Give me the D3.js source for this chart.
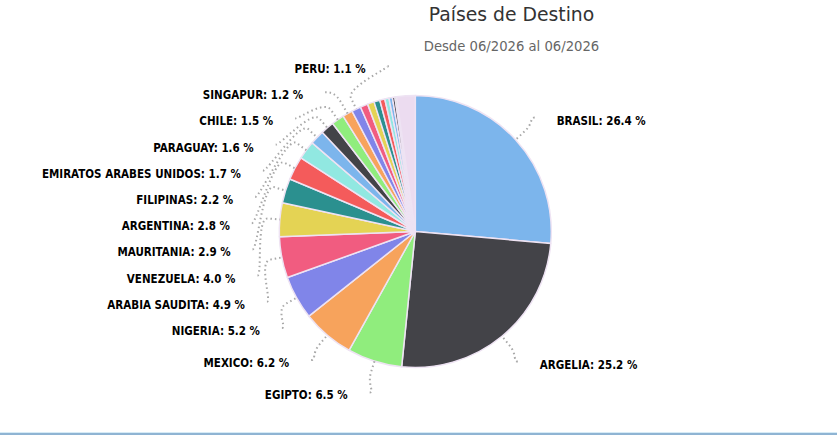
<!DOCTYPE html>
<html><head><meta charset="utf-8">
<script src="https://cdn.jsdelivr.net/npm/d3@7/dist/d3.min.js"></script>
<style>
html,body{margin:0;padding:0;background:#fff;}
svg{display:block;}
</style></head>
<body>
<svg id="chart" width="837" height="447"></svg>
<script>
const titleText = "Países de Destino";
const subtitleText = "Desde 06/2026 al 06/2026";
const countries = ["BRASIL","ARGELIA","EGIPTO","MEXICO","NIGERIA","ARABIA SAUDITA","VENEZUELA","MAURITANIA","ARGENTINA","FILIPINAS","EMIRATOS ARABES UNIDOS","PARAGUAY","CHILE","SINGAPUR","PERU","OTRO 1","OTRO 2","OTRO 3","OTRO 4","OTRO 5","OTRO 6","OTRO 7","OTRO 8","OTROS"];
const shares = [26.4,25.2,6.5,6.2,5.2,4.9,4.0,2.9,2.8,2.2,1.7,1.6,1.5,1.2,1.1,0.9,0.8,0.7,0.6,0.5,0.4,0.3,0.2,2.2];
const labelled = [true,true,true,true,true,true,true,true,true,true,true,true,true,true,true,false,false,false,false,false,false,false,false,false];
const palette = ["#7cb5ec","#434348","#90ed7d","#f7a35c","#8085e9","#f15c80","#e4d354","#2b908f","#f45b5b","#91e8e1"];
const restColor = "#ecdcf0";

const svg = d3.select("#chart");
const W = 837, H = 447;
const cx = 415.3, cy = 231.5, r = 136, R = 168.7;

// title
svg.append("text").attr("x",511.5).attr("y",21).attr("text-anchor","middle")
  .style("font-family","'DejaVu Sans', sans-serif").style("font-size","18.8px").style("fill","#333333")
  .text(titleText);
svg.append("text").attr("x",511.5).attr("y",51).attr("text-anchor","middle")
  .style("font-family","'DejaVu Sans', sans-serif").style("font-size","13.2px").style("fill","#666666")
  .text(subtitleText);

// bottom rule
svg.append("line").attr("x1",0).attr("x2",W).attr("y1",432.5).attr("y2",432.5).style("stroke","#d6ebf6").style("stroke-width",1);
svg.append("line").attr("x1",0).attr("x2",W).attr("y1",434).attr("y2",434).style("stroke","#8fb4d3").style("stroke-width",2);

const data = countries.map((c,i)=>({name:c, value:shares[i], labelled:labelled[i],
  color: i === countries.length-1 ? restColor : palette[i % palette.length]}));

const pie = d3.pie().value(d=>d.value).sort(null);
const arcs = pie(data);
const arcGen = d3.arc().innerRadius(0).outerRadius(r);

const g = svg.append("g").attr("transform",`translate(${cx},${cy})`);
g.selectAll("path.slice").data(arcs).enter().append("path")
  .attr("class","slice")
  .attr("d",arcGen)
  .style("fill",d=>d.data.color)
  .style("stroke","#eee3f3").style("stroke-width",1.5).style("stroke-linejoin","round");

// labels
const items = arcs.filter(a=>a.data.labelled).map(a=>{
  const mid = (a.startAngle+a.endAngle)/2;
  return {a, mid, side: Math.sin(mid) >= 0 ? 1 : -1, target: -R*Math.cos(mid), y: 0};
});

const gap = 26.2, topB = 66 - cy, botB = 420 - cy;
function distribute(list){
  list.sort((p,q)=>p.target-q.target);
  let clusters = list.map(it=>({items:[it]}));
  function place(c){
    const n = c.items.length;
    const mean = d3.mean(c.items, it=>it.target);
    let start = mean - (n-1)*gap/2;
    start = Math.max(topB, Math.min(start, botB - (n-1)*gap));
    c.start = start; c.end = start + (n-1)*gap;
  }
  clusters.forEach(place);
  let changed = true;
  while(changed){
    changed = false;
    for(let i=0;i<clusters.length-1;i++){
      if(clusters[i+1].start - clusters[i].end < gap){
        const merged = {items: clusters[i].items.concat(clusters[i+1].items)};
        place(merged);
        clusters.splice(i,2,merged);
        changed = true; break;
      }
    }
  }
  clusters.forEach(c=>c.items.forEach((it,k)=>{it.y = c.start + k*gap;}));
}
distribute(items.filter(it=>it.side>0));
distribute(items.filter(it=>it.side<0));

const lab = g.append("g");
items.forEach(it=>{
  const dy = it.y;
  const dx = it.side*Math.sqrt(Math.max(0, R*R - dy*dy));
  const touch = [r*Math.sin(it.mid), -r*Math.cos(it.mid)];
  const brk = [(r+12)*Math.sin(it.mid), -(r+12)*Math.cos(it.mid)];
  const end = [dx - it.side*5, dy];
  const p = d3.path();
  p.moveTo(end[0], end[1]);
  p.bezierCurveTo(end[0]-it.side*5, end[1], 2*brk[0]-touch[0], 2*brk[1]-touch[1], brk[0], brk[1]);
  p.lineTo(touch[0], touch[1]);
  lab.append("path").attr("d",p.toString())
    .style("fill","none").style("stroke","#a8a8a8").style("stroke-width",2)
    .style("stroke-dasharray","1.5,3").style("stroke-linecap","butt");
  lab.append("text")
    .attr("x", dx + it.side*17)
    .attr("y", dy + 3)
    .attr("dy","0.35em")
    .attr("text-anchor", it.side>0 ? "start" : "end")
    .style("font-family","'DejaVu Sans Condensed', 'DejaVu Sans', sans-serif").style("font-weight","bold")
    .style("font-size","11.5px").style("fill","#000")
    .text(`${it.a.data.name}: ${it.a.data.value.toFixed(1)} %`);
});
</script>
</body></html>
